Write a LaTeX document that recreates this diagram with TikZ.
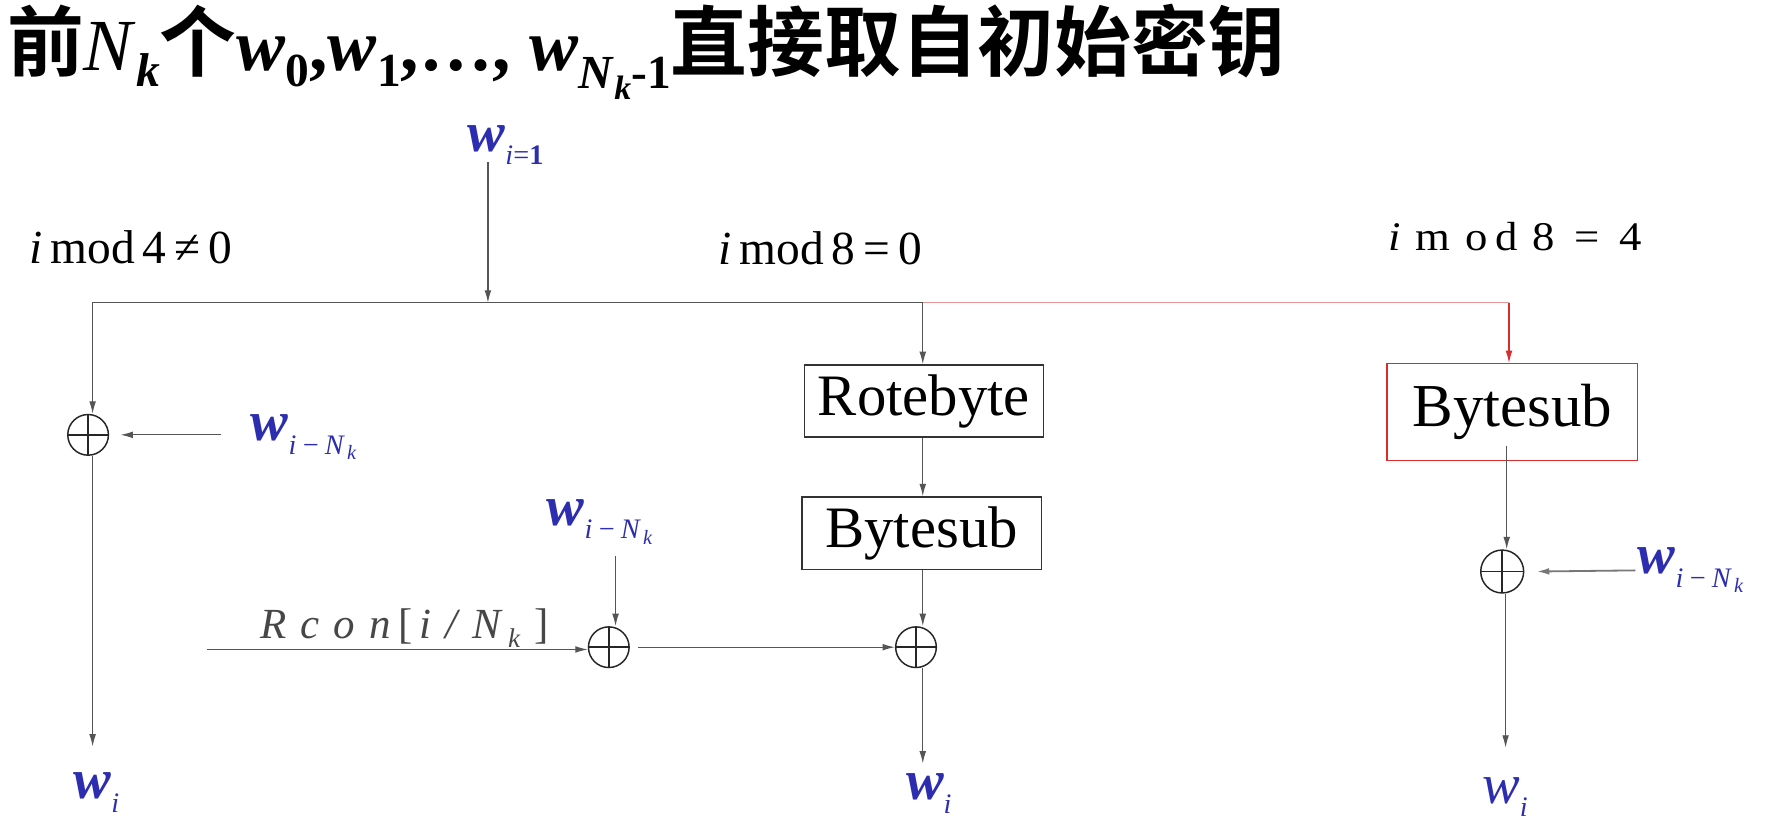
\documentclass[tikz,border=0pt]{standalone}
\usepackage{fontspec}
\usepackage{graphicx}
\setmainfont{Liberation Serif}
\newfontfamily\cjk[BoldFont={Noto Sans CJK SC Bold}]{Noto Sans CJK SC}
\usetikzlibrary{arrows.meta,calc}
\definecolor{wblue}{RGB}{45,45,175}
\definecolor{lgray}{RGB}{85,85,85}
\definecolor{rred}{RGB}{215,45,45}
\definecolor{pred}{RGB}{232,150,150}
\newcommand\dn[3]{\raisebox{-#1}{\fontsize{#2}{#2}\selectfont #3}}
\newcommand\wvar[1]{{\fontsize{50}{50}\selectfont\bfseries\itshape w}\dn{12pt}{25}{\itshape #1}}
\newcommand\wnk{\wvar{i\,−\,N\dn{5pt}{18}{\,k}}}
\begin{document}
\begin{tikzpicture}[x=1pt,y=-1pt,
  conn/.style={draw=lgray, line width=1.1pt, -{Latex[length=11pt,width=6pt]}},
  plain/.style={draw=lgray, line width=1.1pt},
  opbox/.style={draw=black!80, line width=1.2pt, minimum width=212pt, minimum height=64pt, inner sep=0pt, font=\fontsize{52}{52}\selectfont},
  xor/.style={circle, draw=black!85, line width=1.3pt, minimum size=36pt, inner sep=0pt,
    path picture={\draw[line width=1.3pt] (path picture bounding box.north) -- (path picture bounding box.south) (path picture bounding box.west) -- (path picture bounding box.east);}},
  lab/.style={inner sep=0pt, text=wblue},
  cond/.style={inner sep=0pt, font=\fontsize{42}{42}\selectfont}]
\useasboundingbox (0,0) rectangle (1568,732);
\fill[white] (0,0) rectangle (1568,732);

% title
\node[anchor=west, inner sep=0pt] (title) at (6,46) {\fontsize{65}{65}\selectfont\bfseries {\cjk\fontsize{68}{68}\selectfont 前}{\mdseries\textit{N}}\dn{14pt}{42}{\textit{k}}{\cjk\fontsize{68}{68}\selectfont 个}\textit{w}\dn{14pt}{42}{0},\textit{w}\dn{14pt}{42}{1},…, \textit{w}\dn{16pt}{42}{\textit{N}\dn{10pt}{30}{\textit{k}}-1}{\cjk\fontsize{68}{68}\selectfont 直接取自初始密钥}};

% conditions
\node[cond, anchor=base west] (c1) at (26,233) {\textit{i}\,mod\,4\,≠\,0};
\node[cond, anchor=base west] (c2) at (636,234) {\textit{i}\,mod\,8\,=\,0};
\node[cond, anchor=base west] (c3) at (1229,222) {\scalebox{1.1}[1]{\fontsize{36}{36}\selectfont\textit{i}\hspace{12pt}m\hspace{12pt}o\hspace{6pt}d\hspace{12pt}8\hspace{16pt}=\hspace{16pt}4}};

% top input
\node[lab, anchor=base west] (wtop) at (414,134) {{\fontsize{50}{50}\selectfont\bfseries\itshape w}\dn{12pt}{25}{\textit{i}=\textbf{1}}};
\coordinate (ttop) at (432,143);
\coordinate (tj) at (432,268);
\draw[conn] (ttop) -- (tj);
\coordinate (bl) at (82,268);
\coordinate (bm) at (817,268);
\coordinate (br) at (1336,268);
\draw[plain, draw=pred] (bm) -- (br);

% left branch
\node[xor] (x1) at (78,385) {};
\draw[conn] (bm) -- (bl) -- (bl |- x1.north);
\coordinate (l1) at (196,385);
\draw[conn] (l1) -- ([xshift=10pt]x1.east);
\node[lab, anchor=base west] (wl) at (222,390) {\wnk};
\coordinate (o1) at (82,661);
\draw[conn] (o1 |- x1.south) -- (o1);
\node[lab, anchor=base west] (w1) at (65,707) {\wvar{i}};

% middle branch
\node[opbox] (rot) at (818,355) {Rotebyte};
\draw[conn] (bm) -- (bm |- rot.north);
\node[opbox] (bs1) at (816,472) {Bytesub};
\draw[conn] (bm |- rot.south) -- (bm |- bs1.north);
\node[xor] (x2) at (811,573) {};
\draw[conn] (bm |- bs1.south) -- (bm |- x2.north);
\coordinate (o2) at (817,676);
\draw[conn] (o2 |- x2.south) -- (o2);
\node[lab, anchor=base west] (w2) at (802,708) {\wvar{i}};

% Rcon
\node[xor] (x3) at (539,573) {};
\coordinate (rc) at (183,575);
\draw[conn] (rc) -- (rc -| x3.west);
\node[anchor=base, inner sep=0pt, text=black!72, font=\fontsize{38}{38}\selectfont\itshape] (rl) at (358,565) {R\,\,c\,\,o\,\,n\,\textup{[}\,i\,\,/\,\,N\,\dn{8pt}{24}{k}\,\,\textup{]}};
\node[lab, anchor=base west] (wm) at (484,465) {\wnk};
\coordinate (wmt) at (545,492);
\draw[conn] (wmt) -- (wmt |- x3.north);
\draw[conn] ([xshift=7pt]x3.east) -- (x2.west);

% right branch
\node[opbox, draw=rred, line width=1pt, minimum width=222pt, minimum height=86pt, font=\fontsize{54}{54}\selectfont] (bs2) at (1339,365) {Bytesub};
\draw[conn, draw=rred] (br) -- (br |- bs2.north);
\node[xor, minimum size=38pt] (x4) at (1330,506) {};
\coordinate (bsin) at (1334,395);
\draw[conn] (bsin) -- (bsin |- x4.north);
\coordinate (r1) at (1448,505);
\draw[conn, line width=1.6pt, draw=lgray!80] (r1) -- ([xshift=11pt]x4.east);
\node[lab, anchor=base west] (wr) at (1450,508) {\wnk};
\coordinate (o4) at (1333,662);
\draw[conn] (o4 |- x4.south) -- (o4);
\node[lab, anchor=base west] (w4) at (1312,711) {{\fontsize{50}{50}\selectfont\itshape w}\dn{12pt}{25}{\itshape i}};
\end{tikzpicture}
\end{document}
